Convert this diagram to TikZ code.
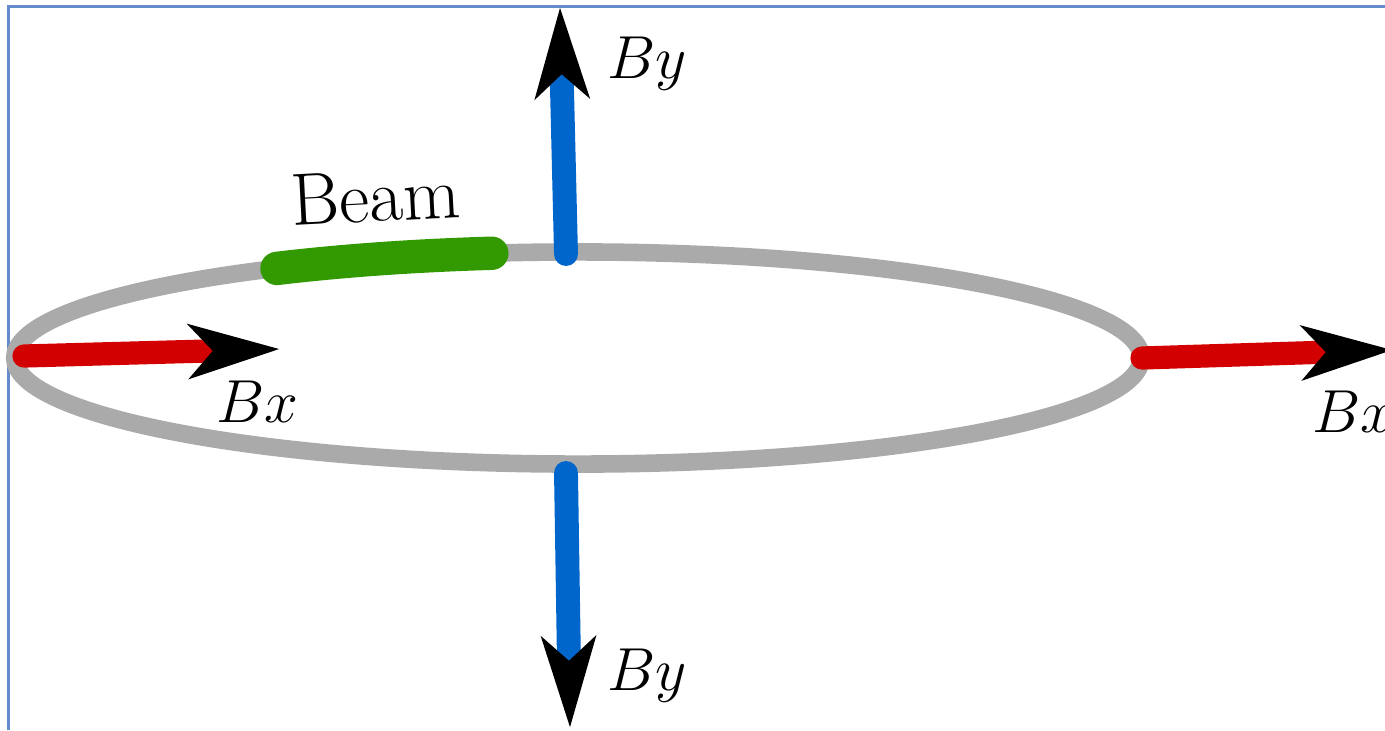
\documentclass[tikz,border=0pt]{standalone}
\usetikzlibrary{arrows.meta}
\definecolor{ringgray}{RGB}{170,170,170}
\definecolor{bxred}{RGB}{210,0,0}
\definecolor{byblue}{RGB}{0,102,204}
\definecolor{beamgreen}{RGB}{51,153,0}
\definecolor{framblue}{RGB}{100,140,205}

\begin{document}
\begin{tikzpicture}[x=0.01cm, y=-0.01cm, font=\fontsize{18.5}{22}\selectfont,
  fieldtip/.style={-{Stealth[black, length=9mm, width=5.3mm, inset=2.3mm]}},
  bxfield/.style={fieldtip, draw=bxred, line width=6.6pt, line cap=round},
  byfield/.style={fieldtip, draw=byblue, line width=6.8pt, line cap=round}]
\useasboundingbox (0,0) rectangle (1385,730);
% ---------- frame edges ----------
\draw[framblue, line width=0.8pt] (8.5,730) -- (8.5,6.5) -- (1385,6.5);
% ---------- ring and beam ----------
\coordinate (ringc) at (578,358);
\draw[ringgray, line width=5pt] (ringc) ellipse [x radius=5.63cm, y radius=1.06cm];
\draw[beamgreen, line width=9.5pt, line cap=round] (277,268.4)
  arc [start angle=122.3, end angle=98.8, x radius=5.63cm, y radius=1.06cm];
\node[rotate=3, anchor=base west, inner sep=0, font=\fontsize{21}{24}\selectfont] (beam) at (292,226) {Beam};
% ---------- field arrows ----------
\coordinate (bxl0) at (24,356);   \coordinate (bxl1) at (280,349);
\coordinate (bxr0) at (1142,358); \coordinate (bxr1) at (1393,350);
\coordinate (byu0) at (566,254);  \coordinate (byu1) at (560,7);
\coordinate (byd0) at (566,473);  \coordinate (byd1) at (570,728);
\draw[bxfield] (bxl0) -- (bxl1);
\draw[bxfield] (bxr0) -- (bxr1);
\draw[byfield] (byu0) -- (byu1);
\draw[byfield] (byd0) -- (byd1);
\node[anchor=base west, inner sep=0] (bxl) at (216,422) {$Bx$};
\node[anchor=base west, inner sep=0] (bxr) at (1312,432) {$Bx$};
\node[anchor=base west, inner sep=0] (byu) at (607,78) {$By$};
\node[anchor=base west, inner sep=0] (byd) at (607,690) {$By$};
\end{tikzpicture}
\end{document}
